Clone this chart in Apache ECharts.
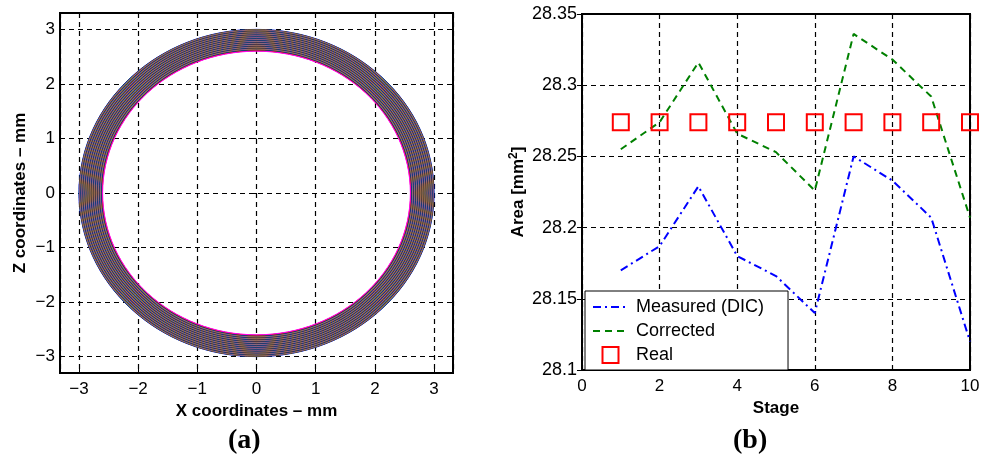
<!DOCTYPE html>
<html>
<head>
<meta charset="utf-8">
<script src="https://cdn.jsdelivr.net/npm/echarts@6/dist/echarts.min.js"></script>
<style>
  html, body { margin: 0; padding: 0; background: #fff; }
  #chart { width: 984px; height: 457px; }
</style>
</head>
<body>
<div id="chart"></div>
<script>
// panel (a): concentric circles forming the ring, outer first
var ringCenter = [0, 0]
var ringRadii = [3.000, 2.995, 2.990, 2.985, 2.980, 2.975, 2.970, 2.965, 2.960, 2.955,
  2.950, 2.945, 2.940, 2.935, 2.930, 2.925, 2.920, 2.915, 2.910, 2.905,
  2.900, 2.895, 2.890, 2.885, 2.880, 2.875, 2.870, 2.865, 2.860, 2.855,
  2.850, 2.845, 2.840, 2.835, 2.830, 2.825, 2.820, 2.815, 2.810, 2.805,
  2.800, 2.795, 2.790, 2.785, 2.780, 2.775, 2.770, 2.765, 2.760, 2.755,
  2.750, 2.745, 2.740, 2.735, 2.730, 2.725, 2.720, 2.715, 2.710, 2.705,
  2.700, 2.695, 2.690, 2.685, 2.680, 2.675, 2.670, 2.665, 2.660, 2.655,
  2.650, 2.645, 2.640, 2.635, 2.630, 2.625, 2.620, 2.615, 2.610, 2.605, 2.600]
var ringColors = ['#0000ff', '#008000', '#ff0000', '#00bfbf', '#bf00bf', '#bfbf00', '#404040']
var innerEdgeColor = '#ff00ff'

// panel (b)
var stages = [1, 2, 3, 4, 5, 6, 7, 8, 9, 10]
var measured = [28.170, 28.187, 28.229, 28.180, 28.166, 28.140, 28.250, 28.233, 28.207, 28.120]
var corrected = [28.255, 28.274, 28.316, 28.266, 28.253, 28.226, 28.336, 28.318, 28.292, 28.207]
var real = [28.274, 28.274, 28.274, 28.274, 28.274, 28.274, 28.274, 28.274, 28.274, 28.274]

var FONT = 'Liberation Sans'
var gridLine = { show: true, lineStyle: { color: '#000', width: 1.2, type: [5, 4] } }
var tickIn = { show: true, inside: true, length: 5, lineStyle: { color: '#000', width: 1 } }
var lineAxis = { show: true, onZero: false, lineStyle: { color: '#000', width: 2 } }
var noMark = { color: 'rgba(0,0,0,0)', opacity: 0, borderWidth: 0 }

function intLabel(v) {
  if (Math.abs(v - Math.round(v)) > 1e-6) return ''
  return String(Math.round(v)).replace('-', '\u2212')
}

function pairs(xs, ys) {
  return xs.map(function (x, i) { return [x, ys[i]] })
}

var chart = echarts.init(document.getElementById('chart'))
chart.setOption({
  backgroundColor: '#fff',
  animation: false,
  textStyle: { fontFamily: FONT },
  grid: [
    { left: 60, top: 13, width: 393, height: 360, show: true, borderColor: '#000', borderWidth: 2 },
    { left: 582, top: 14, width: 388, height: 356, show: true, borderColor: '#000', borderWidth: 2 }
  ],
  xAxis: [{
    gridIndex: 0, type: 'value', min: -3.32, max: 3.32,
    axisLine: lineAxis, axisTick: tickIn, splitLine: gridLine,
    axisLabel: { color: '#000', fontSize: 17, margin: 8, formatter: intLabel },
    name: 'X coordinates \u2013 mm', nameLocation: 'middle', nameGap: 26,
    nameTextStyle: { color: '#000', fontSize: 17, fontWeight: 'bold' }
  }, {
    gridIndex: 0, type: 'value', min: -3.32, max: 3.32, position: 'top',
    axisLine: { show: false }, axisTick: tickIn, splitLine: { show: false }, axisLabel: { show: false }
  }, {
    gridIndex: 1, type: 'value', min: 0, max: 10, interval: 2,
    axisLine: lineAxis, axisTick: tickIn, splitLine: gridLine,
    axisLabel: { color: '#000', fontSize: 17, margin: 8 },
    name: 'Stage', nameLocation: 'middle', nameGap: 26,
    nameTextStyle: { color: '#000', fontSize: 17, fontWeight: 'bold' }
  }, {
    gridIndex: 1, type: 'value', min: 0, max: 10, interval: 2, position: 'top',
    axisLine: { show: false }, axisTick: tickIn, splitLine: { show: false }, axisLabel: { show: false }
  }],
  yAxis: [{
    gridIndex: 0, type: 'value', min: -3.3, max: 3.3,
    axisLine: lineAxis, axisTick: tickIn, splitLine: gridLine,
    axisLabel: { color: '#000', fontSize: 17, margin: 5, formatter: intLabel },
    name: 'Z coordinates \u2013 mm', nameLocation: 'middle', nameGap: 31,
    nameTextStyle: { color: '#000', fontSize: 17, fontWeight: 'bold' }
  }, {
    gridIndex: 0, type: 'value', min: -3.3, max: 3.3, position: 'right',
    axisLine: { show: false }, axisTick: tickIn, splitLine: { show: false }, axisLabel: { show: false }
  }, {
    gridIndex: 1, type: 'value', min: 28.1, max: 28.35, interval: 0.05,
    axisLine: lineAxis, axisTick: tickIn, splitLine: gridLine,
    axisLabel: { color: '#000', fontSize: 18, margin: 5 },
    name: 'Area [mm{sup|2}]', nameLocation: 'middle', nameGap: 53,
    nameTextStyle: {
      color: '#000', fontSize: 17, fontWeight: 'bold',
      rich: { sup: { fontSize: 12, fontWeight: 'bold', color: '#000', verticalAlign: 'bottom', padding: [0, 0, 9, 0] } }
    }
  }, {
    gridIndex: 1, type: 'value', min: 28.1, max: 28.35, interval: 0.05, position: 'right',
    axisLine: { show: false }, axisTick: tickIn, splitLine: { show: false }, axisLabel: { show: false }
  }],
  legend: {
    orient: 'vertical', left: 585, top: 291,
    padding: [7, 24, 6, 7],
    itemWidth: 35, itemHeight: 20, itemGap: 6,
    backgroundColor: '#fff', borderColor: '#000', borderWidth: 1,
    textStyle: { color: '#000', fontSize: 18, lineHeight: 18, padding: [0, 0, 0, 3] },
    data: [
      { name: 'Measured (DIC)', itemStyle: noMark },
      { name: 'Corrected', itemStyle: noMark },
      { name: 'Real' }
    ]
  },
  graphic: [
    { type: 'text', left: 228, top: 427, style: { text: '(a)', font: 'bold 28px "Liberation Serif"', fill: '#000' } },
    { type: 'text', left: 733, top: 427, style: { text: '(b)', font: 'bold 28px "Liberation Serif"', fill: '#000' } }
  ],
  series: [{
    name: 'ring',
    type: 'custom',
    xAxisIndex: 0, yAxisIndex: 0,
    encode: { x: 0, y: 1 },
    data: ringRadii.map(function (r) { return [ringCenter[0], ringCenter[1], r] }),
    renderItem: function (params, api) {
      var c = api.coord([api.value(0), api.value(1)])
      var s = api.size([api.value(2), api.value(2)])
      var last = params.dataIndex === ringRadii.length - 1
      return {
        type: 'ellipse',
        shape: { cx: c[0], cy: c[1], rx: s[0], ry: s[1] },
        style: {
          fill: 'none',
          stroke: last ? innerEdgeColor : ringColors[params.dataIndex % ringColors.length],
          lineWidth: 1
        }
      }
    }
  }, {
    name: 'Measured (DIC)',
    type: 'line',
    xAxisIndex: 2, yAxisIndex: 2,
    symbol: 'none',
    lineStyle: { color: '#0000ff', width: 2, type: [8, 4, 2, 4] },
    itemStyle: { color: '#0000ff' },
    data: pairs(stages, measured)
  }, {
    name: 'Corrected',
    type: 'line',
    xAxisIndex: 2, yAxisIndex: 2,
    symbol: 'none',
    lineStyle: { color: '#008000', width: 2, type: [7, 5] },
    itemStyle: { color: '#008000' },
    data: pairs(stages, corrected)
  }, {
    name: 'Real',
    type: 'line',
    xAxisIndex: 2, yAxisIndex: 2,
    symbol: 'rect',
    symbolSize: 16,
    showSymbol: true,
    clip: false,
    lineStyle: { width: 0, opacity: 0 },
    itemStyle: { color: 'rgba(255,255,255,0)', borderColor: '#ff0000', borderWidth: 2 },
    data: pairs(stages, real)
  }]
})
</script>
</body>
</html>
